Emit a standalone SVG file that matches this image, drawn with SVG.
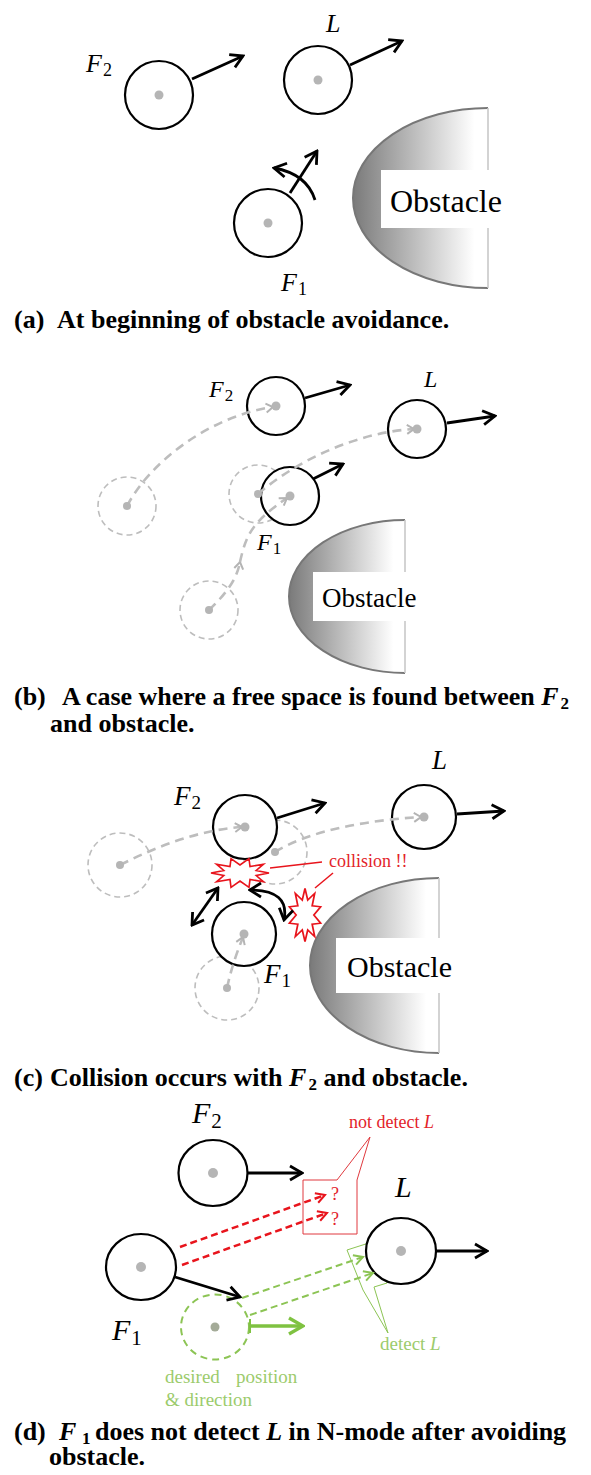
<svg xmlns="http://www.w3.org/2000/svg" width="591" height="1475" viewBox="0 0 591 1475">
<style>
.bot{fill:#fff;stroke:#000;stroke-width:2.2}
.dot{fill:#b5b5b5;stroke:none}
.ghost{fill:none;stroke:#bdbdbd;stroke-width:1.6;stroke-dasharray:6 4}
.trail{fill:none;stroke:#bdbdbd;stroke-width:2.6;stroke-dasharray:9 6;marker-end:url(#gm)}
.arr{fill:none;stroke:#000;stroke-width:2.8;marker-end:url(#ah)}
.lbl{font-family:"Liberation Serif",serif;font-style:italic;fill:#000}
.sub{font-style:normal}
.obs{font-family:"Liberation Serif",serif;fill:#000}
.cap{font-family:"Liberation Serif",serif;font-weight:bold;font-size:26px;fill:#000}
.it{font-style:italic}
.red{fill:#e3232a;font-family:"Liberation Serif",serif;font-size:18px}
.grn{fill:#9ccb6c;font-family:"Liberation Serif",serif;font-size:19px}
.rdash{fill:none;stroke:#e8141c;stroke-width:2.5;stroke-dasharray:7 4;marker-end:url(#rm)}
.gdash{fill:none;stroke:#8cc454;stroke-width:2;stroke-dasharray:7 4;marker-end:url(#gmk)}
.star{fill:#fff;stroke:#e8141c;stroke-width:1.6;stroke-linejoin:miter}
.edge{stroke:#c8c8c8;stroke-width:1.6}
.curve{fill:none;stroke:#777;stroke-width:2}
</style>
<defs>
<linearGradient id="og" x1="0" y1="0" x2="1" y2="0">
<stop offset="0" stop-color="#7a7a7a"/>
<stop offset="0.9" stop-color="#ffffff"/>
</linearGradient>
<marker id="ah" viewBox="-15 -10 17 20" refX="0" refY="0" markerWidth="17" markerHeight="20" markerUnits="userSpaceOnUse" orient="auto">
<path d="M-12,-7 L0,0 L-12,7" fill="none" stroke="#000" stroke-width="2.8"/>
</marker>
<marker id="ahs" viewBox="-15 -10 17 20" refX="0" refY="0" markerWidth="17" markerHeight="20" markerUnits="userSpaceOnUse" orient="auto-start-reverse">
<path d="M-11,-7 L0,0 L-11,7" fill="none" stroke="#000" stroke-width="2.8"/>
</marker>
<marker id="gm" viewBox="-10 -7 12 14" refX="0" refY="0" markerWidth="12" markerHeight="14" markerUnits="userSpaceOnUse" orient="auto">
<path d="M-7,-4.5 L0,0 L-7,4.5" fill="none" stroke="#b4b4b4" stroke-width="2"/>
</marker>
<marker id="rm" viewBox="-11 -7 13 14" refX="0" refY="0" markerWidth="13" markerHeight="14" markerUnits="userSpaceOnUse" orient="auto">
<path d="M-9,-5 L0,0 L-9,5" fill="none" stroke="#e8141c" stroke-width="2"/>
</marker>
<marker id="gmk" viewBox="-11 -7 13 14" refX="0" refY="0" markerWidth="13" markerHeight="14" markerUnits="userSpaceOnUse" orient="auto">
<path d="M-9,-5 L0,0 L-9,5" fill="none" stroke="#8cc454" stroke-width="2"/>
</marker>
<marker id="gbig" viewBox="-17 -11 19 22" refX="0" refY="0" markerWidth="19" markerHeight="22" markerUnits="userSpaceOnUse" orient="auto">
<path d="M-14,-8 L0,0 L-14,8" fill="none" stroke="#7fc241" stroke-width="3.4"/>
</marker>
<polygon id="starshape" points="29,0 16.2,2.5 23.5,8.8 10,6.5 9,14.3 0,8 -9,14.3 -10,6.5 -23.5,8.8 -16.2,2.5 -29,0 -16.2,-2.5 -23.5,-8.8 -10,-6.5 -9,-14.3 0,-8 9,-14.3 10,-6.5 23.5,-8.8 16.2,-2.5"/>
</defs>

<!-- ================= Panel (a) ================= -->
<g id="a-obstacle">
<path d="M488,108 A135,90 0 0 0 488,288 Z" fill="url(#og)"/>
<path d="M488,108 A135,90 0 0 0 488,288" class="curve"/>
<line x1="488" y1="108" x2="488" y2="288" class="edge"/>
<rect x="381" y="170" width="122" height="58" fill="#fff"/>
<text x="390" y="212" class="obs" font-size="32">Obstacle</text>
</g>
<g id="a-F2">
<circle cx="159" cy="95" r="34" class="bot"/>
<circle cx="159" cy="95" r="4.5" class="dot"/>
<text x="86" y="72" class="lbl" font-size="26">F<tspan class="sub" font-size="18" dx="1" dy="4">2</tspan></text>
</g>
<g id="a-L">
<circle cx="318" cy="80" r="34" class="bot"/>
<circle cx="318" cy="80" r="4.5" class="dot"/>
<text x="326" y="32" class="lbl" font-size="26">L</text>
</g>
<g id="a-F1">
<circle cx="268" cy="223" r="34" class="bot"/>
<circle cx="268" cy="223" r="4.5" class="dot"/>
<text x="281" y="291" class="lbl" font-size="26">F<tspan class="sub" font-size="18" dx="1" dy="4">1</tspan></text>
</g>
<g id="a-connectors">
<line x1="192" y1="79" x2="243" y2="56" class="arr"/>
<line x1="350" y1="65" x2="402" y2="41" class="arr"/>
<line x1="290" y1="193" x2="317" y2="151" class="arr"/>
<path d="M315,200 Q307,174 274,168" class="arr"/>
</g>
<g id="a-caption">
<text x="14" y="328" class="cap">(a)</text>
<text x="57" y="328" class="cap">At beginning of obstacle avoidance.</text>
</g>

<!-- ================= Panel (b) ================= -->
<g id="b-obstacle">
<path d="M405,520 A116,76.5 0 0 0 405,673 Z" fill="url(#og)"/>
<path d="M405,520 A116,76.5 0 0 0 405,673" class="curve"/>
<line x1="405" y1="520" x2="405" y2="673" class="edge"/>
<rect x="313" y="572" width="104" height="49" fill="#fff"/>
<text x="322" y="607" class="obs" font-size="27">Obstacle</text>
</g>
<g id="b-ghosts">
<circle cx="127" cy="506" r="29" class="ghost"/>
<circle cx="258" cy="494" r="29" class="ghost"/>
<circle cx="209" cy="610" r="29" class="ghost"/>
</g>
<g id="b-F2">
<circle cx="276" cy="406" r="29" class="bot"/>
<text x="209" y="397" class="lbl" font-size="24">F<tspan class="sub" font-size="17" dx="1" dy="4">2</tspan></text>
</g>
<g id="b-L">
<circle cx="417" cy="429" r="29" class="bot"/>
<text x="424" y="387" class="lbl" font-size="24">L</text>
</g>
<g id="b-F1">
<circle cx="290" cy="496" r="29" class="bot"/>
<text x="257" y="550" class="lbl" font-size="24">F<tspan class="sub" font-size="17" dx="1" dy="4">1</tspan></text>
</g>
<g id="b-connectors">
<path d="M127,506 C150,462 210,416 273,407" class="trail"/>
<path d="M258,494 C300,458 360,432 414,429" class="trail"/>
<path d="M209,610 C228,592 237,578 240,562" class="trail"/>
<path d="M240,562 C246,535 252,522 287,498" class="trail"/>
<line x1="305" y1="398" x2="350" y2="385" class="arr"/>
<line x1="447" y1="423" x2="495" y2="416" class="arr"/>
<line x1="313" y1="479" x2="343" y2="464" class="arr"/>
<circle cx="127" cy="506" r="4" class="dot"/>
<circle cx="258" cy="494" r="4" class="dot"/>
<circle cx="209" cy="610" r="4" class="dot"/>
<circle cx="276" cy="406" r="4.5" class="dot"/>
<circle cx="417" cy="429" r="4.5" class="dot"/>
<circle cx="290" cy="496" r="4.5" class="dot"/>
</g>
<g id="b-caption">
<text x="14" y="705" class="cap">(b)</text>
<text x="62" y="705" class="cap">A case where a free space is found between <tspan class="it">F</tspan><tspan font-size="17" dx="2" dy="4">2</tspan></text>
<text x="50" y="732" class="cap">and obstacle.</text>
</g>

<!-- ================= Panel (c) ================= -->
<g id="c-obstacle">
<path d="M439,878 A129,87.5 0 0 0 439,1053 Z" fill="url(#og)"/>
<path d="M439,878 A129,87.5 0 0 0 439,1053" class="curve"/>
<line x1="439" y1="878" x2="439" y2="1053" class="edge"/>
<rect x="336" y="938" width="118" height="55" fill="#fff"/>
<text x="347" y="977" class="obs" font-size="30">Obstacle</text>
</g>
<g id="c-ghosts">
<circle cx="120" cy="865" r="32" class="ghost"/>
<circle cx="275" cy="852" r="32" class="ghost"/>
<circle cx="227" cy="988" r="32" class="ghost"/>
</g>
<g id="c-F2">
<circle cx="245" cy="827" r="32" class="bot"/>
<text x="174" y="805" class="lbl" font-size="27">F<tspan class="sub" font-size="19" dx="1" dy="4">2</tspan></text>
</g>
<g id="c-L">
<circle cx="424" cy="817" r="32" class="bot"/>
<text x="432" y="769" class="lbl" font-size="27">L</text>
</g>
<g id="c-F1">
<circle cx="244" cy="934" r="32" class="bot"/>
<text x="264" y="983" class="lbl" font-size="27">F<tspan class="sub" font-size="19" dx="1" dy="4">1</tspan></text>
</g>
<g id="c-collisions">
<use href="#starshape" class="star" transform="translate(240,873)"/>
<use href="#starshape" class="star" transform="translate(305,915) rotate(90) scale(0.92,1.1)"/>
<line x1="270" y1="868" x2="322" y2="862" stroke="#e8141c" stroke-width="1.5"/>
<line x1="315" y1="888" x2="333" y2="873" stroke="#e8141c" stroke-width="1.5"/>
<text x="329" y="867" class="red">collision !!</text>
</g>
<g id="c-connectors">
<path d="M120,865 C160,845 200,830 242,827" class="trail"/>
<path d="M275,852 C310,830 370,820 421,817" class="trail"/>
<path d="M227,988 C232,965 238,950 243,937" class="trail"/>
<line x1="277" y1="818" x2="325" y2="803" class="arr"/>
<line x1="457" y1="814" x2="504" y2="811" class="arr"/>
<line x1="192" y1="925" x2="218" y2="888" class="arr" style="marker-start:url(#ahs);marker-end:url(#ahs)"/>
<path d="M250,890 Q290,890 284,920" class="arr" style="marker-start:url(#ahs);marker-end:url(#ahs)"/>
<circle cx="120" cy="865" r="4" class="dot"/>
<circle cx="275" cy="852" r="4" class="dot"/>
<circle cx="227" cy="988" r="4" class="dot"/>
<circle cx="245" cy="827" r="4.5" class="dot"/>
<circle cx="424" cy="817" r="4.5" class="dot"/>
<circle cx="244" cy="934" r="4.5" class="dot"/>
</g>
<g id="c-caption">
<text x="14" y="1086" class="cap">(c)</text>
<text x="50" y="1086" class="cap">Collision occurs with <tspan class="it">F</tspan><tspan font-size="17" dx="2" dy="4">2</tspan><tspan dy="-4"> and obstacle.</tspan></text>
</g>

<!-- ================= Panel (d) ================= -->
<g id="d-notdetect-callout">
<path d="M303,1180 L337,1180 L370,1137 L357,1180 L357,1234 L303,1234 Z" fill="none" stroke="#e0393e" stroke-width="1"/>
<text x="349" y="1128" class="red">not detect <tspan font-style="italic">L</tspan></text>
<text x="331" y="1200" class="red" font-size="17">?</text>
<text x="331" y="1225" class="red" font-size="17">?</text>
</g>
<g id="d-detect-callout">
<path d="M347,1250 L372,1242 L387,1283 L374,1287 L388,1333 L363,1290 Z" fill="none" stroke="#8cc454" stroke-width="1"/>
<text x="380" y="1350" class="grn">detect <tspan font-style="italic">L</tspan></text>
</g>
<g id="d-F2">
<ellipse cx="213" cy="1173" rx="34.5" ry="33" class="bot"/>
<circle cx="213" cy="1173" r="5" class="dot"/>
<text x="192" y="1123" class="lbl" font-size="30">F<tspan class="sub" font-size="21" dx="1" dy="5">2</tspan></text>
</g>
<g id="d-L">
<ellipse cx="401" cy="1251" rx="35" ry="33" class="bot"/>
<circle cx="401" cy="1251" r="5" class="dot"/>
<text x="395" y="1197" class="lbl" font-size="30">L</text>
</g>
<g id="d-F1">
<ellipse cx="141" cy="1267" rx="35" ry="33" class="bot"/>
<circle cx="141" cy="1267" r="5" class="dot"/>
<text x="112" y="1340" class="lbl" font-size="30">F<tspan class="sub" font-size="21" dx="1" dy="5">1</tspan></text>
</g>
<g id="d-desired">
<ellipse cx="215" cy="1327" rx="34" ry="32.5" fill="none" stroke="#8cc454" stroke-width="2" stroke-dasharray="7 5"/>
<circle cx="215" cy="1327" r="4.5" fill="#a4ab98"/>
<text x="165" y="1383" class="grn">desired</text>
<text x="236" y="1383" class="grn">position</text>
<text x="165" y="1406" class="grn">&amp; direction</text>
</g>
<g id="d-connectors">
<line x1="247" y1="1173" x2="302" y2="1173" class="arr"/>
<line x1="436" y1="1251" x2="487" y2="1251" class="arr"/>
<line x1="175" y1="1277" x2="240" y2="1297" class="arr"/>
<line x1="180" y1="1247" x2="325" y2="1195" class="rdash"/>
<line x1="182" y1="1265" x2="327" y2="1213" class="rdash"/>
<line x1="242" y1="1298" x2="363" y2="1257" class="gdash"/>
<line x1="250" y1="1315" x2="373" y2="1273" class="gdash"/>
<line x1="250" y1="1326" x2="303" y2="1326" fill="none" stroke="#7fc241" stroke-width="3.4" marker-end="url(#gbig)"/>
<line x1="250" y1="1319" x2="250" y2="1333" stroke="#7fc241" stroke-width="2"/>
</g>
<g id="d-caption">
<text x="14" y="1440" class="cap">(d)</text>
<text x="59" y="1440" class="cap it">F</text>
<text x="82" y="1444" class="cap" style="font-size:17px">1</text>
<text x="95" y="1440" class="cap">does not detect <tspan class="it">L</tspan> in N-mode after avoiding</text>
<text x="49" y="1465" class="cap">obstacle.</text>
</g>
</svg>
